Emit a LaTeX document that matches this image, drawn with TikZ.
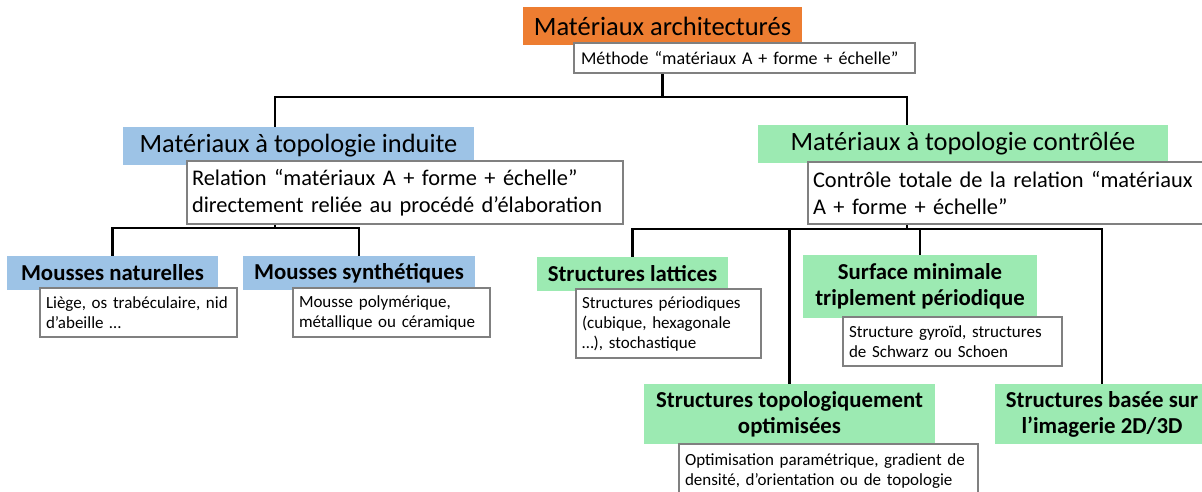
\documentclass[tikz,border=0pt]{standalone}
\usepackage{fontspec}
\setmainfont{Carlito}
\usetikzlibrary{backgrounds}

\definecolor{orangeT}{RGB}{237,125,49}
\definecolor{bleuT}{RGB}{157,195,230}
\definecolor{vertT}{RGB}{156,234,178}
\definecolor{grisT}{RGB}{128,128,128}

\begin{document}
\begin{tikzpicture}[x=1pt, y=-1pt,
        every node/.style={anchor=north west, inner sep=0pt, outer sep=0pt},
        titrebox/.style={fill=orangeT, align=center, font=\fontsize{26.5}{30}\selectfont},
        grandbox/.style={align=center, font=\fontsize{26.4}{30}\selectfont},
        sousbox/.style={align=center, font=\bfseries\fontsize{22.8}{26}\selectfont},
        methbox/.style={draw=grisT, line width=1.2pt, fill=white, align=left, inner xsep=7pt, font=\fontsize{18}{21}\selectfont},
        relbox/.style={draw=grisT, line width=1.2pt, fill=white, align=left, inner xsep=5pt, font=\fontsize{22.4}{27}\selectfont},
        descbox/.style={draw=grisT, line width=1.2pt, fill=white, align=left, inner xsep=6pt, font=\fontsize{17}{20}\selectfont},
        lien/.style={draw, line width=2.4pt}
    ]
    \useasboundingbox (0,0) rectangle (1202,491);
    \clip (0,0) rectangle (1202,491);

    % Niveau 0
    \node[titrebox, minimum width=279pt, minimum height=38pt] (titre) at (523,7) {Matériaux architecturés};
    \node[methbox, text width=327pt, minimum height=30pt] (methode) at (574,43) {Méthode “matériaux A + forme + échelle”};

    % Niveau 1
    \node[grandbox, fill=bleuT, minimum width=351pt, minimum height=38pt] (induite) at (123,127) {Matériaux à topologie induite};
    \node[relbox, text width=426pt, minimum height=63pt] (relation) at (187,161) {Relation “matériaux A + forme + échelle”\\directement reliée au procédé d’élaboration};

    \node[grandbox, fill=vertT, minimum width=410pt, minimum height=38pt] (controlee) at (758,125) {Matériaux à topologie contrôlée};
    \node[relbox, text width=402pt, minimum height=62pt] (controle) at (808,162) {Contrôle totale de la relation “matériaux\\A + forme + échelle”};

    % Niveau 2, gauche
    \node[sousbox, fill=bleuT, minimum width=211pt, minimum height=34pt] (naturelles) at (7,256) {Mousses naturelles};
    \node[descbox, text width=185pt, minimum height=49pt] (liege) at (40,288) {Liège, os trabéculaire, nid\\d’abeille …};
    \node[sousbox, fill=bleuT, minimum width=232pt, minimum height=34pt] (synth) at (243,256) {Mousses synthétiques};
    \node[descbox, text width=185pt, minimum height=49pt] (polym) at (293,288) {Mousse polymérique,\\métallique ou céramique};

    % Niveau 2, droite
    \node[sousbox, fill=vertT, minimum width=191pt, minimum height=34pt] (lattices) at (537,257) {Structures lattices};
    \node[descbox, text width=173pt, minimum height=69pt] (periodiques) at (576,289) {Structures périodiques\\(cubique, hexagonale\\…), stochastique};
    \node[sousbox, fill=vertT, minimum width=234pt, minimum height=63pt] (surface) at (803,255) {Surface minimale\\triplement périodique};
    \node[descbox, text width=207pt, minimum height=49pt] (gyroide) at (843,317) {Structure gyroïd, structures\\de Schwarz ou Schoen};
    \node[sousbox, fill=vertT, minimum width=291pt, minimum height=60pt] (optimisees) at (644,384) {Structures topologiquement\\optimisées};
    \node[descbox, text width=287pt, minimum height=54pt] (parametrique) at (679,444) {Optimisation paramétrique, gradient de\\densité, d’orientation ou de topologie\\[4pt]};
    \node[sousbox, fill=vertT, minimum width=214pt, minimum height=60pt] (imagerie) at (995,384) {Structures basée sur\\l’imagerie 2D/3D};

    % Liens
    \coordinate (hG) at (275,97);
    \coordinate (hD) at (907,97);
    \coordinate (bG) at (275,228);
    \coordinate (bD) at (907,229);
    \begin{scope}[on background layer]
        \draw[lien] (titre.south) -- (titre.south |- hG);
        \draw[lien] (induite.north -| hG) -- (hG) -- (hD) -- (controlee.north -| hD);

        \draw[lien] (relation.south -| bG) -- (bG);
        \draw[lien] (naturelles.north) -- (naturelles.north |- bG) -- (synth.north |- bG) -- (synth.north);

        \draw[lien] (controle.south -| bD) -- (bD);
        \draw[lien] (lattices.north) -- (lattices.north |- bD) -- (imagerie.north |- bD) -- (imagerie.north);
        \draw[lien] (surface.north) -- (surface.north |- bD);
        \draw[lien] (optimisees.north) -- (optimisees.north |- bD);
    \end{scope}
\end{tikzpicture}
\end{document}
